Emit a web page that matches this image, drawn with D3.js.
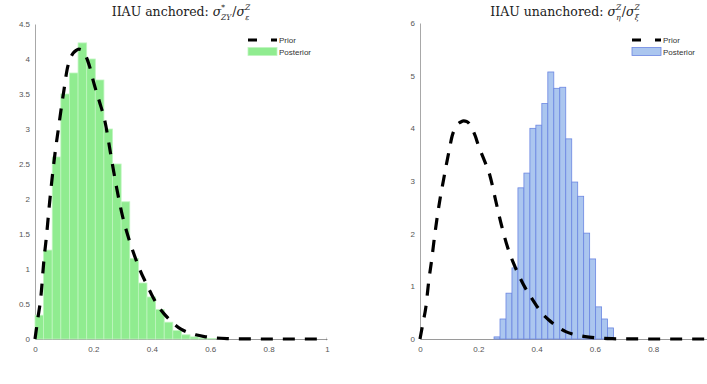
<!DOCTYPE html>
<html>
<head>
<meta charset="utf-8">
<script src="https://cdn.jsdelivr.net/npm/d3@7"></script>
<style>
  html, body { margin: 0; padding: 0; background: #fff; }
  svg { display: block; }
  .tick text { font-family: "Liberation Sans", Arial, sans-serif; font-size: 8px; fill: #555; }
  .title { font-family: "DejaVu Serif", "Liberation Serif", serif; font-size: 12.5px; fill: #222; }
  .leg { font-family: "Liberation Sans", Arial, sans-serif; font-size: 8px; fill: #333; }
</style>
</head>
<body>
<svg id="chart" width="707" height="384"></svg>
<script>
// Prior density (shared by both panels)
const priorX = [0, 0.01, 0.02, 0.03, 0.04, 0.05, 0.06, 0.07, 0.08, 0.09, 0.10, 0.11, 0.12, 0.13, 0.14, 0.15,
                0.16, 0.17, 0.18, 0.19, 0.20, 0.22, 0.24, 0.26, 0.28, 0.30, 0.32, 0.34, 0.36, 0.38, 0.40,
                0.42, 0.44, 0.46, 0.48, 0.50, 0.52, 0.55, 0.58, 0.62, 0.66, 0.70, 0.80, 0.90, 1.00];
const priorY = [0, 0.3, 0.6, 1.1, 1.5, 1.95, 2.35, 2.7, 3.0, 3.3, 3.58, 3.85, 4.0, 4.08, 4.12, 4.14,
                4.13, 4.08, 3.98, 3.85, 3.68, 3.4, 3.1, 2.62, 2.15, 1.75, 1.45, 1.2, 0.98, 0.8, 0.63,
                0.48, 0.37, 0.28, 0.2, 0.14, 0.1, 0.06, 0.035, 0.015, 0.006, 0.002, 0, 0, 0];

// Anchored posterior histogram: bin edges and densities
const anchoredEdges = [0, 0.0295, 0.059, 0.0885, 0.118, 0.1475, 0.177, 0.2065, 0.236, 0.2655, 0.295,
                       0.3245, 0.354, 0.3835, 0.413, 0.4425, 0.472, 0.5015, 0.531, 0.5605, 0.59, 0.6195];
const anchoredDensity = [0.34, 1.27, 2.6, 3.5, 3.8, 4.23, 4.0, 3.7, 3.0, 2.5, 1.96,
                         1.15, 0.8, 0.6, 0.42, 0.24, 0.12, 0.06, 0.03, 0.015, 0.008];

// Unanchored posterior histogram: bin edges and densities
const unanchoredEdges = [0.254, 0.2745, 0.295, 0.3155, 0.336, 0.3565, 0.377, 0.3975, 0.418, 0.4385, 0.459,
                         0.4795, 0.5, 0.5205, 0.541, 0.5615, 0.582, 0.6025, 0.623, 0.6435, 0.664];
const unanchoredDensity = [0.04, 0.38, 0.87, 1.35, 2.87, 3.15, 4.0, 4.06, 4.47, 5.07,
                           4.76, 4.78, 3.8, 2.98, 2.71, 2.01, 1.52, 0.61, 0.38, 0.21];

const leftXTicks = [0, 0.2, 0.4, 0.6, 0.8, 1];
const rightXTicks = [0, 0.2, 0.4, 0.6, 0.8];
const leftYTicks = [0, 0.5, 1, 1.5, 2, 2.5, 3, 3.5, 4, 4.5];
const rightYTicks = [0, 1, 2, 3, 4, 5, 6];
const legendLabels = ["Prior", "Posterior"];

const svg = d3.select("#chart");
const fmt = d => String(d);

function drawPanel(cfg) {
  const x = d3.scaleLinear().domain([0, 1]).range([cfg.left, cfg.left + cfg.plotW]);
  const y = d3.scaleLinear().domain([0, cfg.yMax]).range([cfg.bottom, cfg.top]);
  const g = svg.append("g");

  // axes
  const xAxis = d3.axisBottom(x).tickValues(cfg.xTicks).tickSize(0).tickPadding(7).tickFormat(fmt);
  const gx = g.append("g").attr("transform", `translate(0,${cfg.bottom})`).call(xAxis);
  gx.select(".domain").attr("stroke", "#9a9a9a");

  const yAxis = d3.axisLeft(y).tickValues(cfg.yTicks).tickSize(0).tickPadding(5).tickFormat(fmt);
  const gy = g.append("g").attr("transform", `translate(${cfg.left},0)`).call(yAxis);
  gy.select(".domain").attr("stroke", "#a8a8a8");

  // histogram bars
  const bins = cfg.density.map((d, i) => ({ x0: cfg.edges[i], x1: cfg.edges[i + 1], v: d }));
  g.append("g").selectAll("rect").data(bins).join("rect")
    .attr("x", d => x(d.x0))
    .attr("y", d => y(d.v))
    .attr("width", d => x(d.x1) - x(d.x0))
    .attr("height", d => y(0) - y(d.v))
    .attr("fill", cfg.fill)
    .attr("stroke", cfg.stroke)
    .attr("stroke-width", 0.8);

  // prior density, dashed
  const line = d3.line().x(d => x(d[0])).y(d => y(d[1])).curve(d3.curveMonotoneX);
  g.append("path")
    .datum(priorX.map((v, i) => [v, priorY[i]]))
    .attr("d", line)
    .attr("fill", "none")
    .attr("stroke", "#000")
    .attr("stroke-width", 3.2)
    .attr("stroke-dasharray", "12,10");

  // title
  const t = svg.append("text").attr("class", "title")
    .attr("x", cfg.titleX).attr("y", 16).attr("text-anchor", "middle");
  cfg.title(t);

  // legend
  const lg = svg.append("g").attr("transform", `translate(${cfg.legX},0)`);
  lg.append("line").attr("x1", 0).attr("x2", 29).attr("y1", 40).attr("y2", 40)
    .attr("stroke", "#000").attr("stroke-width", 3).attr("stroke-dasharray", "9,14");
  lg.append("text").attr("class", "leg").attr("x", 31).attr("y", 43).text(legendLabels[0]);
  lg.append("rect").attr("x", 0).attr("y", 47.5).attr("width", 29).attr("height", 8)
    .attr("fill", cfg.fill).attr("stroke", cfg.stroke).attr("stroke-width", 0.8);
  lg.append("text").attr("class", "leg").attr("x", 31).attr("y", 55).text(legendLabels[1]);
}

// symbol with stacked superscript / subscript
function sigma(t, sup, sub, back) {
  t.append("tspan").attr("font-style", "italic").text("σ");
  t.append("tspan").attr("font-size", "7.5px").attr("font-style", "italic").attr("dy", -6).text(sup);
  t.append("tspan").attr("font-size", "7.5px").attr("font-style", "italic")
    .attr("dx", -back).attr("dy", 10).text(sub);
  return t.append("tspan").attr("dy", -4);
}

drawPanel({
  left: 35, plotW: 292, top: 24, bottom: 339, yMax: 4.5,
  xTicks: leftXTicks, yTicks: leftYTicks,
  edges: anchoredEdges, density: anchoredDensity,
  fill: "#90ec90", stroke: "#bff5bf",
  titleX: 181, legX: 248,
  title: t => {
    t.append("tspan").text("IIAU anchored: ");
    sigma(t, "*", "ZY", 4).attr("dx", 1).text("/");
    sigma(t, "Z", "ε", 5);
  }
});

drawPanel({
  left: 420, plotW: 291.5, top: 23, bottom: 339, yMax: 6,
  xTicks: rightXTicks, yTicks: rightYTicks,
  edges: unanchoredEdges, density: unanchoredDensity,
  fill: "#abc6ef", stroke: "#6b86e2",
  titleX: 565, legX: 632,
  title: t => {
    t.append("tspan").text("IIAU unanchored: ");
    sigma(t, "Z", "η", 5).attr("dx", 1).text("/");
    sigma(t, "Z", "ξ", 5);
  }
});
</script>
</body>
</html>
